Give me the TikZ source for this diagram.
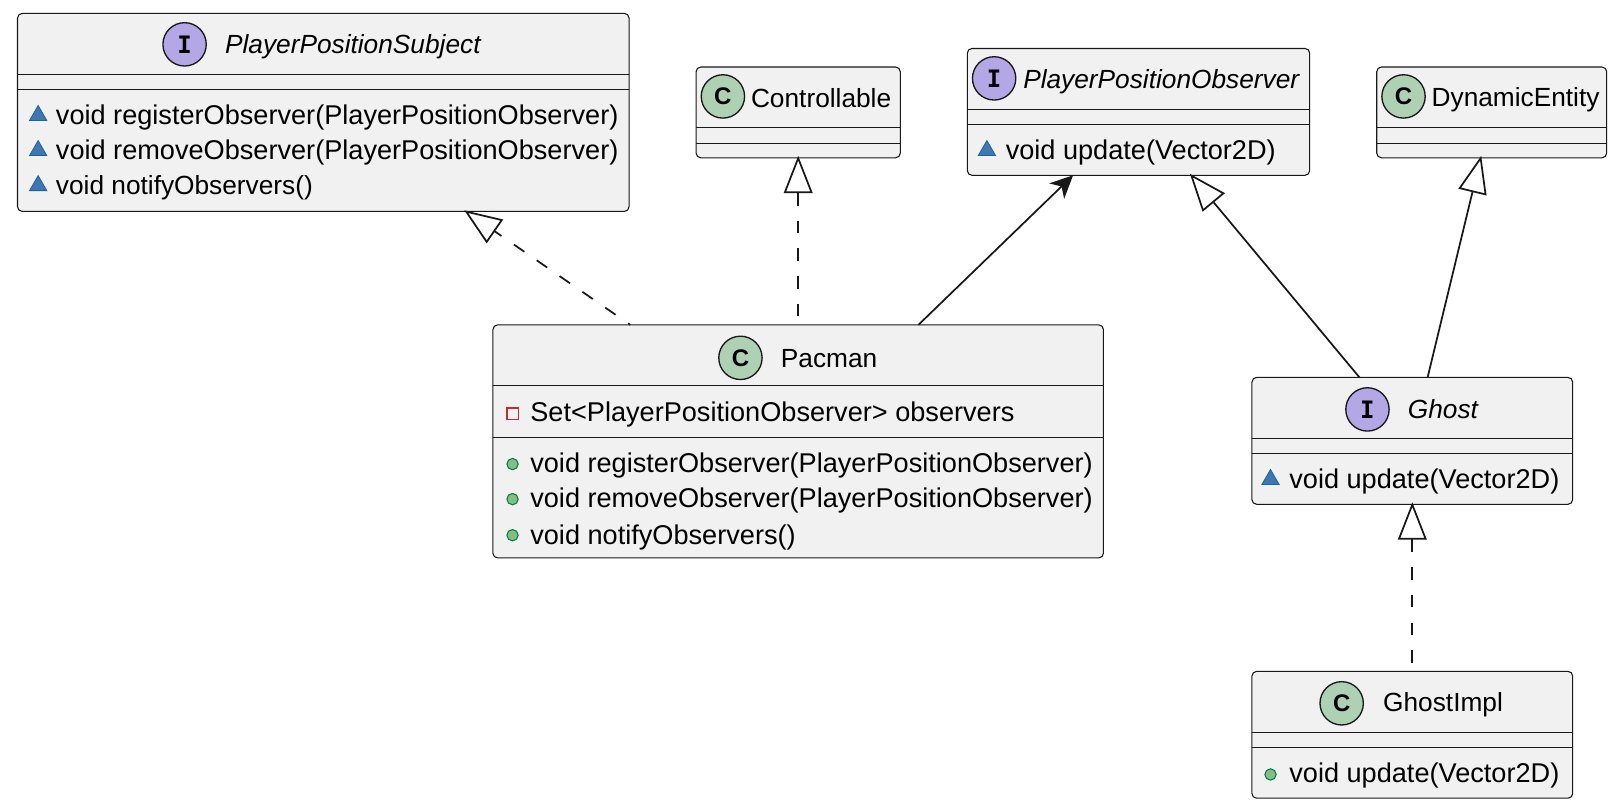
\documentclass[tikz,border=0pt]{standalone}
\usepackage{fontspec}
\setmainfont{Liberation Sans}
\newfontfamily\glyphfont{DejaVu Sans Mono}
\usetikzlibrary{arrows.meta,fit,shapes.geometric}
\definecolor{boxfill}{HTML}{F1F1F1}
\definecolor{boxline}{HTML}{181818}
\definecolor{classcolor}{HTML}{ADD1B2}
\definecolor{ifacecolor}{HTML}{B4A7E5}
\definecolor{pkgfill}{HTML}{3F78B0}
\definecolor{pkgline}{HTML}{1963A0}
\definecolor{privline}{HTML}{C82930}
\definecolor{pubfill}{HTML}{84BE84}
\definecolor{publine}{HTML}{038048}
\tikzset{
  classbox/.style={draw=boxline, fill=boxfill, line width=0.8pt, rounded corners=3.5pt, inner sep=0pt, outer sep=0pt},
  sepline/.style={draw=boxline, line width=0.8pt},
  badge/.style={circle, draw=boxline, line width=1pt, minimum size=32.5pt, inner sep=0pt},
  classbadge/.style={badge, fill=classcolor, font=\bfseries\fontsize{18pt}{18pt}\selectfont},
  ifacebadge/.style={badge, fill=ifacecolor, font=\glyphfont\bfseries\fontsize{18pt}{18pt}\selectfont},
  label/.style={anchor=west, inner sep=0pt, font=\fontsize{19.7pt}{22pt}\selectfont},
  member/.style={label, font=\fontsize{20.35pt}{22pt}\selectfont},
  ilabel/.style={label, font=\fontsize{19.7pt}{22pt}\selectfont\itshape},
  pkgicon/.style={regular polygon, regular polygon sides=3, draw=pkgline, fill=pkgfill, line width=0.6pt, minimum size=15pt, inner sep=0pt},
  privicon/.style={rectangle, draw=privline, line width=1pt, minimum size=8.5pt, inner sep=0pt},
  pubicon/.style={circle, draw=publine, fill=pubfill, line width=0.8pt, minimum size=8.5pt, inner sep=0pt},
  hollowtip/.style={-{Triangle[open, fill=white, length=28pt, width=21.5pt]}, shorten >=-1.5pt},
  realize/.style={draw=boxline, line width=1.3pt, dash pattern=on 9.5pt off 11.3pt, hollowtip},
  extend/.style={draw=boxline, line width=1.3pt, hollowtip},
  uses/.style={draw=boxline, line width=1.3pt, -{Stealth[length=17pt, width=16pt, inset=5pt]}}
}
\begin{document}
\begin{tikzpicture}[x=0.7734pt,y=-0.7734pt]
    \useasboundingbox (0,0) rectangle (1568,783.5);

    % PlayerPositionSubject
    \node [classbox, fit={(17,13) (610,205)}] (subject) {};
    \node [ifacebadge] (subjectbadge) at (179,43) {I};
    \node [ilabel] (subjectname) at (218,45) {PlayerPositionSubject};
    \draw [sepline] (17,72) -- (610,72);
    \draw [sepline] (17,87) -- (610,87);
    \node [pkgicon] (s1icon) at (37,112) {};
    \node [member] (s1) at (54,114) {void registerObserver(PlayerPositionObserver)};
    \node [pkgicon] (s2icon) at (37,146) {};
    \node [member] (s2) at (54,148) {void removeObserver(PlayerPositionObserver)};
    \node [pkgicon] (s3icon) at (37,180) {};
    \node [label] (s3) at (54,182) {void notifyObservers()};

    % Controllable
    \node [classbox, fit={(675,65) (873,153)}] (controllable) {};
    \node [classbadge] (controllablebadge) at (701,93.5) {C};
    \node [label] (controllablename) at (728,95.5) {Controllable};
    \draw [sepline] (675,124) -- (873,124);
    \draw [sepline] (675,139) -- (873,139);

    % PlayerPositionObserver
    \node [classbox, fit={(938,47) (1270,170)}] (observer) {};
    \node [ifacebadge] (observerbadge) at (964,76) {I};
    \node [ilabel] (observername) at (992,79) {PlayerPositionObserver};
    \draw [sepline] (938,106) -- (1270,106);
    \draw [sepline] (938,121) -- (1270,121);
    \node [pkgicon] (o1icon) at (957,146) {};
    \node [member] (o1) at (975,148) {void update(Vector2D)};

    % DynamicEntity
    \node [classbox, fit={(1335,65) (1558,153)}] (entity) {};
    \node [classbadge] (entitybadge) at (1361,93.5) {C};
    \node [label] (entityname) at (1388,97) {DynamicEntity};
    \draw [sepline] (1335,124) -- (1558,124);
    \draw [sepline] (1335,139) -- (1558,139);

    % Pacman
    \node [classbox, fit={(478,315) (1070,541)}] (pacman) {};
    \node [classbadge] (pacmanbadge) at (718,347) {C};
    \node [label] (pacmanname) at (757,348) {Pacman};
    \draw [sepline] (478,374) -- (1070,374);
    \draw [sepline] (478,424) -- (1070,424);
    \node [privicon] (p0icon) at (497,401) {};
    \node [member] (p0) at (514,402) {Set<PlayerPositionObserver> observers};
    \node [pubicon] (p1icon) at (497,450) {};
    \node [member] (p1) at (514,451) {void registerObserver(PlayerPositionObserver)};
    \node [pubicon] (p2icon) at (497,484) {};
    \node [member] (p2) at (514,485) {void removeObserver(PlayerPositionObserver)};
    \node [pubicon] (p3icon) at (497,519) {};
    \node [member] (p3) at (514,521) {void notifyObservers()};

    % Ghost
    \node [classbox, fit={(1214,366) (1525,489)}] (ghost) {};
    \node [ifacebadge] (ghostbadge) at (1326,397) {I};
    \node [ilabel] (ghostname) at (1365,397) {Ghost};
    \draw [sepline] (1214,425) -- (1525,425);
    \draw [sepline] (1214,440) -- (1525,440);
    \node [pkgicon] (g1icon) at (1232,465) {};
    \node [member] (g1) at (1250,467) {void update(Vector2D)};

    % GhostImpl
    \node [classbox, fit={(1214,651) (1525,774)}] (impl) {};
    \node [classbadge] (implbadge) at (1301,682) {C};
    \node [label] (implname) at (1341,683) {GhostImpl};
    \draw [sepline] (1214,710) -- (1525,710);
    \draw [sepline] (1214,725) -- (1525,725);
    \node [pubicon] (i1icon) at (1232,751) {};
    \node [member] (i1) at (1250,752) {void update(Vector2D)};

    \draw [realize, dash phase=7.5pt] (pacman) -- (subject);
    \draw [realize, dash phase=14.5pt] (pacman) -- (controllable);
    \draw [uses] (pacman) -- (observer);
    \draw [extend] (ghost) -- (observer);
    \draw [extend] (ghost) -- (entity);
    \draw [realize, dash phase=14.5pt] (impl) -- (ghost);
\end{tikzpicture}
\end{document}
